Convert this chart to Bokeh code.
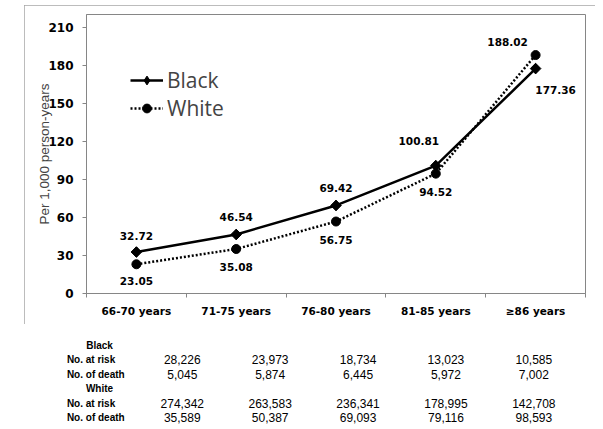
from bokeh.plotting import figure
from bokeh.layouts import column
from bokeh.models import (FactorRange, Range1d, LinearAxis, CategoricalAxis, FixedTicker,
                          ColumnDataSource, Legend, LegendItem, CustomJSTickFormatter)
from bokeh.embed import file_html
from bokeh.resources import INLINE
from bokeh.core.properties import value

# ---------------- data ----------------
categories = ["66-70 years", "71-75 years", "76-80 years", "81-85 years", "≥86 years"]
black_rate = [32.72, 46.54, 69.42, 100.81, 177.36]
white_rate = [23.05, 35.08, 56.75, 94.52, 188.02]
y_ticks = [0, 30, 60, 90, 120, 150, 180, 210]

black_at_risk = [28226, 23973, 18734, 13023, 10585]
black_deaths = [5045, 5874, 6445, 5972, 7002]
white_at_risk = [274342, 263583, 236341, 178995, 142708]
white_deaths = [35589, 50387, 69093, 79116, 98593]

# label offsets (screen px) for the point labels
black_dx = [0, 0, 0, -17, 20]
black_dy = [-16, -17, -17, -25, 21]
white_dx = [0, 0, 0, 0, -28]
white_dy = [17, 18, 18, 18, -13]

GREY = "#868686"
NUM_FONT = "DejaVu Sans"
TXT_FONT = "Liberation Sans"

# ---------------- chart ----------------
p = figure(width=571, height=319, margin=(5, 8, 0, 24),
           x_range=FactorRange(factors=categories), y_range=Range1d(0, 220),
           x_axis_location=None, output_backend="svg", toolbar_location=None,
           min_border_left=62, min_border_right=10, min_border_top=9, min_border_bottom=31)
p.styles = {"outline": "1px solid #a6a6a6", "outline-offset": "-1px"}
p.xgrid.grid_line_color = None
p.ygrid.grid_line_color = None
p.outline_line_color = GREY
p.background_fill_color = "white"
p.border_fill_color = "white"

ya = p.yaxis[0]
ya.ticker = FixedTicker(ticks=y_ticks)
ya.axis_line_color = GREY
ya.major_tick_line_color = GREY
ya.major_tick_out = 4
ya.major_tick_in = 0
ya.minor_tick_line_color = None
ya.major_label_text_font = NUM_FONT
ya.major_label_text_font_style = "bold"
ya.major_label_text_font_size = "12px"
ya.major_label_text_color = "black"
ya.major_label_standoff = 9
ya.axis_label = "Per 1,000 person-years"
ya.axis_label_text_font = TXT_FONT
ya.axis_label_text_font_style = "normal"
ya.axis_label_text_font_size = "13.5px"
ya.axis_label_standoff = -7

# boundary ticks between categories, then the category labels
bax = LinearAxis(ticker=FixedTicker(ticks=list(range(len(categories) + 1))),
                 formatter=CustomJSTickFormatter(code="return ''"),
                 major_label_text_font_size="0px", major_label_standoff=0,
                 major_tick_out=4, major_tick_in=0, minor_tick_line_color=None,
                 axis_line_color=GREY, major_tick_line_color=GREY)
p.add_layout(bax, "below")
cax = CategoricalAxis(axis_line_color=None, major_tick_line_color=None,
                      major_tick_out=0, major_tick_in=0, major_label_standoff=7,
                      major_label_text_font=NUM_FONT, major_label_text_font_style="bold",
                      major_label_text_font_size="10.5px", major_label_text_color="black")
p.add_layout(cax, "below")

bl = p.line(categories, black_rate, line_color="black", line_width=2.5)
# diamond used for the legend symbol (hidden beneath the rotated squares)
bd = p.scatter(categories, black_rate, marker="diamond", size=10,
               fill_color="black", line_color="black")
bm = p.scatter(categories, black_rate, marker="square", angle=0.785398, size=7.5,
               fill_color="black", line_color="black")
wl = p.line(categories, white_rate, line_color="black", line_width=2.5, line_dash="2 2")
wm = p.scatter(categories, white_rate, marker="circle", size=9,
               fill_color="black", line_color="black")

lab_src = ColumnDataSource(dict(
    x=categories + categories,
    y=black_rate + white_rate,
    t=["%.2f" % v for v in black_rate] + ["%.2f" % v for v in white_rate],
    dx=black_dx + white_dx,
    dy=black_dy + white_dy,
))
p.text(x="x", y="y", text="t", x_offset="dx", y_offset="dy", source=lab_src,
       text_align="center", text_baseline="middle", text_font=value(NUM_FONT),
       text_font_style="bold", text_font_size="10.5px", text_color="black")

legend = Legend(items=[LegendItem(label="Black", renderers=[bl, bd]),
                       LegendItem(label="White", renderers=[wl, wm])],
                location=(44, 171), border_line_color=None, background_fill_alpha=0,
                padding=0, margin=0, glyph_width=33, glyph_height=22, label_height=22,
                label_standoff=4, spacing=0, label_text_font="Open Sans",
                label_text_font_size="21px")
p.add_layout(legend)

# ---------------- table below ----------------
n = len(categories)
col_idx = list(range(n))
t = figure(width=603, height=105, x_range=Range1d(-1.363, 4.679), y_range=Range1d(5.833, -1.458),
           x_axis_location=None, y_axis_location=None, output_backend="svg",
           toolbar_location=None, min_border=0, outline_line_color=None)
t.xgrid.grid_line_color = None
t.ygrid.grid_line_color = None

fmt = lambda v: f"{v:,}"
tbl_src = ColumnDataSource(dict(
    x=col_idx * 4,
    y=[1] * n + [2] * n + [4] * n + [5] * n,
    t=[fmt(v) for v in black_at_risk] + [fmt(v) for v in black_deaths]
      + [fmt(v) for v in white_at_risk] + [fmt(v) for v in white_deaths],
))
t.text(x="x", y="y", text="t", source=tbl_src, text_align="center", text_baseline="middle",
       text_font=value(TXT_FONT), text_font_size="12px", text_color="black")

group_src = ColumnDataSource(dict(x=[-0.942, -0.942], y=[0, 3], t=["Black", "White"]))
t.text(x="x", y="y", text="t", source=group_src, text_align="center", text_baseline="middle",
       text_font=value(TXT_FONT), text_font_style="bold", text_font_size="10px",
       text_color="black")
row_src = ColumnDataSource(dict(x=[-1.313] * 4, y=[1, 2, 4, 5],
                                t=["No. at risk", "No. of death", "No. at risk", "No. of death"]))
t.text(x="x", y="y", text="t", source=row_src, text_align="left", text_baseline="middle",
       text_font=value(TXT_FONT), text_font_style="bold", text_font_size="10px",
       text_color="black")

open("out.html", "w").write(file_html(column(p, t), INLINE))
